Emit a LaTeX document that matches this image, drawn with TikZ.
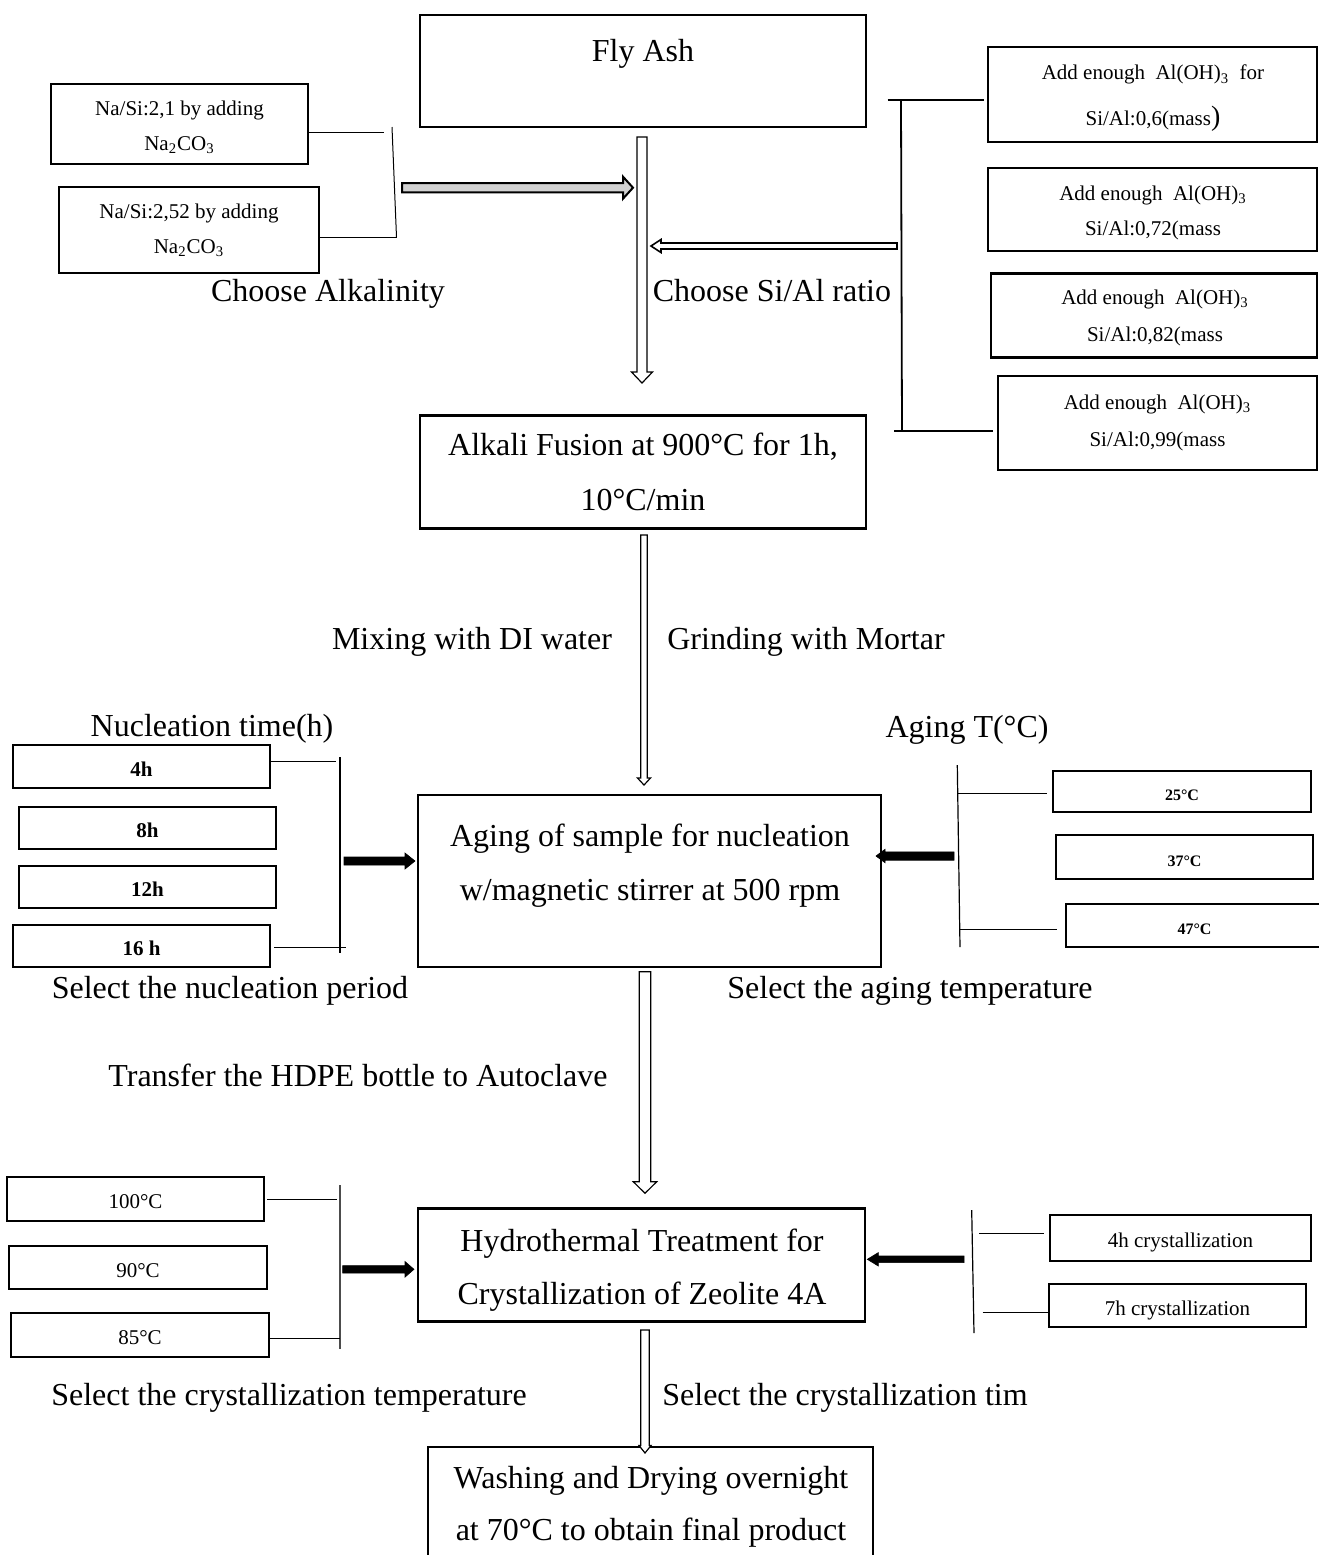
\documentclass[tikz,border=0pt]{standalone}
\usepackage{fontspec}
\setmainfont{Liberation Serif}
\usetikzlibrary{calc}

% block arrow, vertical: style, start, tip, shaft half width, head half width, head length (+ = downward)
\newcommand\myvarrow[6]{%
  \draw[#1] ($(#2)+({-(#4)},0)$) -- ($(#3)+({-(#4)},{-(#6)})$) -- ($(#3)+({-(#5)},{-(#6)})$) -- (#3)
    -- ($(#3)+({#5},{-(#6)})$) -- ($(#3)+({#4},{-(#6)})$) -- ($(#2)+({#4},0)$) -- cycle;}
% block arrow, horizontal: style, start, tip, shaft half width, head half width, head length (+ = rightward)
\newcommand\myharrow[6]{%
  \draw[#1] ($(#2)+(0,{-(#4)})$) -- ($(#3)+({-(#6)},{-(#4)})$) -- ($(#3)+({-(#6)},{-(#5)})$) -- (#3)
    -- ($(#3)+({-(#6)},{#5})$) -- ($(#3)+({-(#6)},{#4})$) -- ($(#2)+(0,{#4})$) -- cycle;}

\begin{document}
\begin{tikzpicture}[x=0.5pt,y=-0.5pt,
  box/.style={draw, line width=1.3pt, inner sep=0pt, align=center},
  sz/.style 2 args={minimum width={#1*0.5pt}, minimum height={#2*0.5pt}},
  big/.style={font=\fontsize{16}{27}\selectfont},
  small/.style={font=\fontsize{10.5}{17.5}\selectfont},
  oneline/.style={text height=1.0em, text depth=0.03em},
  smallb/.style={font=\fontsize{10.5}{17.5}\selectfont\bfseries},
  tinyb/.style={font=\fontsize{8}{10}\selectfont\bfseries, text height=0.95em, text depth=0.02em},
  txt/.style={inner sep=0pt, align=center},
  lbl/.style={big, inner sep=0pt, text height=0.95em, text depth=0.05em},
  link/.style={line width=0.5pt},
  barline/.style={line width=0.9pt},
  hollow/.style={draw, fill=white, line width=0.6pt},
  greyarr/.style={draw, fill=gray!35, line width=1pt},
  blackarr/.style={draw, fill=black, line width=0.3pt}]
\useasboundingbox (0,0) rectangle (1319,1555);
\clip (0,0) rectangle (1319,1555);

% ---------- main flow boxes ----------
\node[box, sz={446}{112}] (flyash) at (643,71) {};
\node[lbl] (flyasht) at (643,52) {Fly Ash};

\node[box, font=\fontsize{16}{27.5}\selectfont, sz={446}{113}] (fusion) at (643,472)
  {Alkali Fusion at 900°C for 1h,\\10°C/min};

\node[box, sz={463}{172}] (aging) at (649.5,881) {};
\node[big, txt] (agingt) at (650,866)
  {Aging of sample for nucleation\\w/magnetic stirrer at 500 rpm};

\node[box, sz={447}{113}] (hydro) at (641.5,1265) {};
\node[txt, font=\fontsize{16}{26.5}\selectfont] (hydrot) at (642,1270)
  {Hydrothermal Treatment for\\Crystallization of Zeolite 4A};

\node[box, sz={445}{153}] (final) at (650.5,1523.5) {};
\node[txt, font=\fontsize{16}{26}\selectfont] (finalt) at (651,1507)
  {Washing and Drying overnight\\at 70°C to obtain final product};

% ---------- alkalinity ----------
\node[box, sz={257}{80}] (na1) at (179.5,124) {};
\node[txt, small] (na1t) at (179.5,127) {Na/Si:2,1 by adding\\Na\textsubscript{2}CO\textsubscript{3}};
\node[box, small, sz={260}{86}] (na2) at (189,230) {Na/Si:2,52 by adding\\Na\textsubscript{2}CO\textsubscript{3}};
\coordinate (alkA) at (384,132);
\coordinate (alkTop) at (392,127);
\coordinate (alkBot) at (396.5,237);
\draw[link] (na1.east |- alkA) -- (alkA);
\draw[link] (alkTop) -- (alkBot);
\draw[link] (na2.east |- alkBot) -- (alkBot);
\node[lbl] (choosealk) at (328,292) {Choose Alkalinity};

% ---------- Si/Al ----------
\node[box, sz={329}{95}] (sial1) at (1152.5,94.5) {};
\node[txt, font=\fontsize{10.5}{23}\selectfont] (sial1t) at (1153,98.5)
  {Add enough\ \ Al(OH)\textsubscript{3}\ \ for\\Si/Al:0,6(mass{\fontsize{14}{14}\selectfont)}};
\node[box, sz={329}{83}] (sial2) at (1152.5,209.5) {};
\node[txt, small] (sial2t) at (1153,212.5) {Add enough\ \ Al(OH)\textsubscript{3}\\Si/Al:0,72(mass};
\node[box, sz={326}{84}] (sial3) at (1154,315.5) {};
\node[txt, font=\fontsize{10.5}{18.5}\selectfont] (sial3t) at (1155,317.5) {Add enough\ \ Al(OH)\textsubscript{3}\\Si/Al:0,82(mass};
\node[box, font=\fontsize{10.5}{18.5}\selectfont, sz={319}{94}] (sial4) at (1157.5,423) {Add enough\ \ Al(OH)\textsubscript{3}\\Si/Al:0,99(mass};
\coordinate (siTopL) at (887.5,100);
\coordinate (siTop) at (901,100);
\coordinate (siBot) at (902,431);
\coordinate (siBotL) at (894,431);
\draw[link, line width=0.7pt] (siTopL) -- ([xshift=-1.5pt]sial1.west |- siTopL);
\draw[barline] (siTop) -- (siBot);
\draw[link, line width=0.7pt] (siBotL) -- ([xshift=-2pt]sial4.west |- siBotL);
\node[lbl] (choosesial) at (772,292) {Choose Si/Al ratio};

% ---------- between fusion and aging ----------
\node[lbl] (mixing) at (472,640) {Mixing with DI water};
\node[lbl] (grinding) at (806,640) {Grinding with Mortar};

% ---------- nucleation time ----------
\node[lbl] (nuctime) at (212,727) {Nucleation time(h)};
\node[box, smallb, oneline, sz={257}{43}] (nuc1) at (141.5,766.5) {4h};
\node[box, smallb, oneline, sz={257}{42}] (nuc2) at (147.5,828) {8h};
\node[box, smallb, oneline, sz={257}{42}] (nuc3) at (147.5,887) {12h};
\node[box, smallb, oneline, sz={257}{42}] (nuc4) at (141.5,946) {16 h};
\coordinate (nA) at (336,761);
\coordinate (nTop) at (340,757);
\coordinate (nBot) at (340,953);
\coordinate (nB) at (346,947);
\draw[link] (nuc1.east |- nA) -- (nA);
\draw[link, line width=0.6pt] (nTop) -- (nBot);
\draw[link] ([xshift=1.5pt]nuc4.east |- nB) -- (nB);
\node[lbl] (selnuc) at (230,989) {Select the nucleation period};

% ---------- aging temperature ----------
\node[lbl] (agingT) at (967,728) {Aging T(°C)};
\node[box, tinyb, sz={258}{41}] (t25) at (1182,791.5) {25°C};
\node[box, tinyb, sz={257}{44}] (t37) at (1184.5,857) {37°C};
\node[box, tinyb, sz={257}{43}] (t47) at (1194.5,925.5) {47°C};
\coordinate (tTop) at (957.3,765);
\coordinate (tBot) at (960,947);
\coordinate (tA) at (958,793);
\coordinate (tB) at (960,929);
\draw[link, line width=0.6pt] (tTop) -- (tBot);
\draw[link] (tA) -- ([xshift=-2.5pt]t25.west |- tA);
\draw[link] (tB) -- ([xshift=-4pt]t47.west |- tB);
\node[lbl] (selage) at (910,989) {Select the aging temperature};

\node[lbl] (transfer) at (358,1077) {Transfer the HDPE bottle to Autoclave};

% ---------- crystallization temperature ----------
\node[box, small, oneline, sz={257}{44}] (h100) at (135.5,1199) {100°C};
\node[box, small, oneline, sz={258}{43}] (h90) at (138,1267.5) {90°C};
\node[box, small, oneline, sz={258}{44}] (h85) at (140,1335) {85°C};
\coordinate (hA) at (337,1199);
\coordinate (hTop) at (340,1185);
\coordinate (hBot) at (340,1349);
\coordinate (hB) at (340,1338);
\draw[link] ([xshift=1pt]h100.east |- hA) -- (hA);
\draw[line width=0.8pt, black!70] (hTop) -- (hBot);
\draw[link] (h85.east |- hB) -- (hB);
\node[lbl] (selcryT) at (289,1396) {Select the crystallization temperature};

% ---------- crystallization time ----------
\node[box, small, oneline, sz={261}{46}] (c4) at (1180.5,1238) {4h crystallization};
\node[box, small, oneline, sz={257}{43}] (c7) at (1177.5,1305.5) {7h crystallization};
\coordinate (cTop) at (971.7,1210);
\coordinate (cBot) at (974,1333);
\coordinate (cA) at (979.3,1233);
\coordinate (cB) at (982.7,1312);
\draw[link, line width=0.6pt] (cTop) -- (cBot);
\draw[link] (cA) -- ([xshift=-2.5pt]c4.west |- cA);
\draw[link] (cB) -- (c7.west |- cB);
\node[lbl] (selcryt) at (845,1396) {Select the crystallization tim};

% ---------- block arrows ----------
\coordinate (ar1s) at (642,137);  \coordinate (ar1t) at (642,383);
\myvarrow{hollow}{ar1s}{ar1t}{5}{10.5}{11}
\coordinate (ar2s) at (644,535);  \coordinate (ar2t) at (644,785);
\myvarrow{hollow}{ar2s}{ar2t}{3.2}{6.5}{7}
\coordinate (ar3s) at (645,971.7);  \coordinate (ar3t) at (645,1193.3);
\myvarrow{hollow}{ar3s}{ar3t}{5.7}{11.7}{11.6}
\coordinate (ar4s) at (645,1330);  \coordinate (ar4t) at (645,1453);
\myvarrow{hollow}{ar4s}{ar4t}{4.2}{6}{7.5}

\coordinate (gas) at (402,187.7);  \coordinate (gat) at (633,187.7);
\myharrow{greyarr}{gas}{gat}{4.7}{11}{10}
\coordinate (sas) at (897,246);  \coordinate (sat) at (651,246);
\myharrow{hollow, line width=0.8pt}{sas}{sat}{3}{6.5}{-10}

\coordinate (b1s) at (344,861);  \coordinate (b1t) at (415,861);
\myharrow{blackarr}{b1s}{b1t}{4}{8}{10}
\coordinate (b2s) at (954,856);  \coordinate (b2t) at (876,856);
\myharrow{blackarr}{b2s}{b2t}{4.2}{6.7}{-9}
\coordinate (b3s) at (342.7,1269.3);  \coordinate (b3t) at (414,1269.3);
\myharrow{blackarr}{b3s}{b3t}{3.7}{7.8}{9}
\coordinate (b4s) at (964,1259.3);  \coordinate (b4t) at (867.3,1259.3);
\myharrow{blackarr}{b4s}{b4t}{3.3}{6.7}{-11}
\end{tikzpicture}
\end{document}
